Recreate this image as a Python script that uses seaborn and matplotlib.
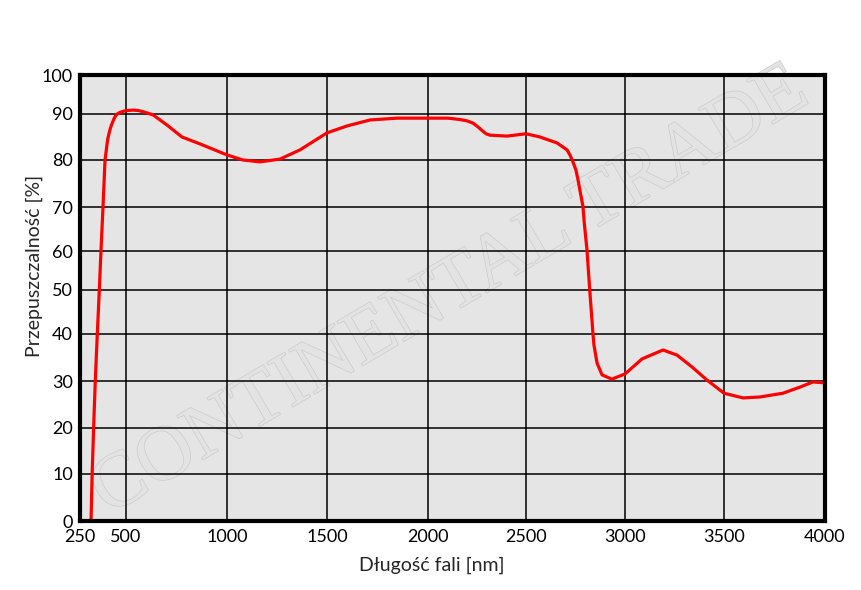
import numpy as np
import matplotlib
matplotlib.use("Agg")
import matplotlib.pyplot as plt
import matplotlib.patheffects as pe
import seaborn as sns

# Transmission curve
wavelength_nm = [310, 316, 324, 333, 344, 355, 364, 375, 386, 391, 397, 402, 408, 413,
                 420, 427, 435, 445, 455, 467, 485, 505, 535, 560, 584, 634, 703, 777,
                 866, 1000, 1080, 1165, 1265, 1365, 1500, 1599, 1713, 1847, 2005, 2102,
                 2163, 2200, 2230, 2255, 2276, 2296, 2316, 2403, 2500, 2571, 2657, 2707,
                 2722, 2737, 2752, 2763, 2788, 2793, 2808, 2823, 2838, 2843, 2859, 2884,
                 2934, 3000, 3086, 3192, 3263, 3338, 3414, 3500, 3594, 3678, 3792, 3876,
                 3941, 4000]
transmission = [0, 10, 20, 30, 40, 50, 60, 70, 80, 81.5, 83.5, 84.8, 85.8, 86.6,
                87.5, 88.2, 89.0, 89.7, 90.1, 90.4, 90.7, 90.9, 91.0, 90.9, 90.6, 89.8, 87.6, 85.0,
                83.5, 81.1, 80.0, 79.6, 80.2, 82.2, 85.9, 87.4, 88.7, 89.1, 89.1, 89.1,
                88.8, 88.5, 88.0, 87.2, 86.4, 85.7, 85.4, 85.2, 85.7, 85.0, 83.7, 82.2,
                81.1, 79.6, 77.9, 75.7, 70.0, 67.0, 60.2, 49.3, 40.2, 37.7, 33.8, 31.3,
                30.4, 31.5, 34.7, 36.6, 35.5, 33.0, 30.2, 27.4, 26.4, 26.6, 27.4, 28.7,
                29.8, 29.6]

x_ticks = [250, 500, 1000, 1500, 2000, 2500, 3000, 3500, 4000]
y_ticks = [0, 10, 20, 30, 40, 50, 60, 70, 80, 90, 100]

# the original grid is not evenly spaced, so the axes use a piecewise scale
x_grid_px = [0, 46, 147, 247, 348, 446, 545, 644, 745]
y_grid_px = [0, 47, 93, 140, 187, 231, 270, 314, 361, 407, 446]


def piecewise(vals, pos):
    vals = np.asarray(vals, float)
    pos = np.asarray(pos, float)
    fwd = lambda v: np.interp(v, vals, pos)
    inv = lambda p: np.interp(p, pos, vals)
    return fwd, inv


sns.set_style("white")
plt.rcParams['font.family'] = ['Lato', 'DejaVu Sans']

fig = plt.figure(figsize=(8.61, 5.9), dpi=100)
ax = fig.add_axes([80 / 861, 69 / 590, 745 / 861, 446 / 590])
ax.set_facecolor('#e5e5e5')

ax.set_xscale('function', functions=piecewise(x_ticks, x_grid_px))
ax.set_yscale('function', functions=piecewise(y_ticks, y_grid_px))

sns.lineplot(x=wavelength_nm, y=transmission, color='#ff0000', linewidth=2.3, ax=ax, zorder=5)

ax.set_xlim(250, 4000)
ax.set_ylim(0, 100)
ax.set_xticks(x_ticks)
ax.set_yticks(y_ticks)
ax.set_xticklabels([str(t) for t in x_ticks])
ax.set_yticklabels([str(t) for t in y_ticks])
ax.minorticks_off()
ax.grid(True, color='black', linewidth=1.1)
ax.set_axisbelow(True)
ax.tick_params(length=0, labelsize=13, colors='black')
ax.tick_params(axis='x', pad=6)
ax.tick_params(axis='y', pad=5)
for s in ax.spines.values():
    s.set_color('black')
    s.set_linewidth(3)
    s.set_zorder(6)

ax.set_xlabel('Długość fali [nm]', fontsize=14)
ax.set_ylabel('Przepuszczalność [%]', fontsize=14)
ax.xaxis.set_label_coords(0.4725, -0.08)
ax.yaxis.set_label_coords(-0.049, 0.572)

# watermark
ax.text(0.497, 0.513, 'CONTINENTAL TRADE', transform=ax.transAxes,
        fontsize=56, family='Liberation Serif', color='#e3e3e3',
        rotation=30.5, ha='center', va='center', zorder=0.5,
        path_effects=[pe.withStroke(linewidth=1.0, foreground='#cbcbcb')])

fig.savefig('out.png', dpi=100)
